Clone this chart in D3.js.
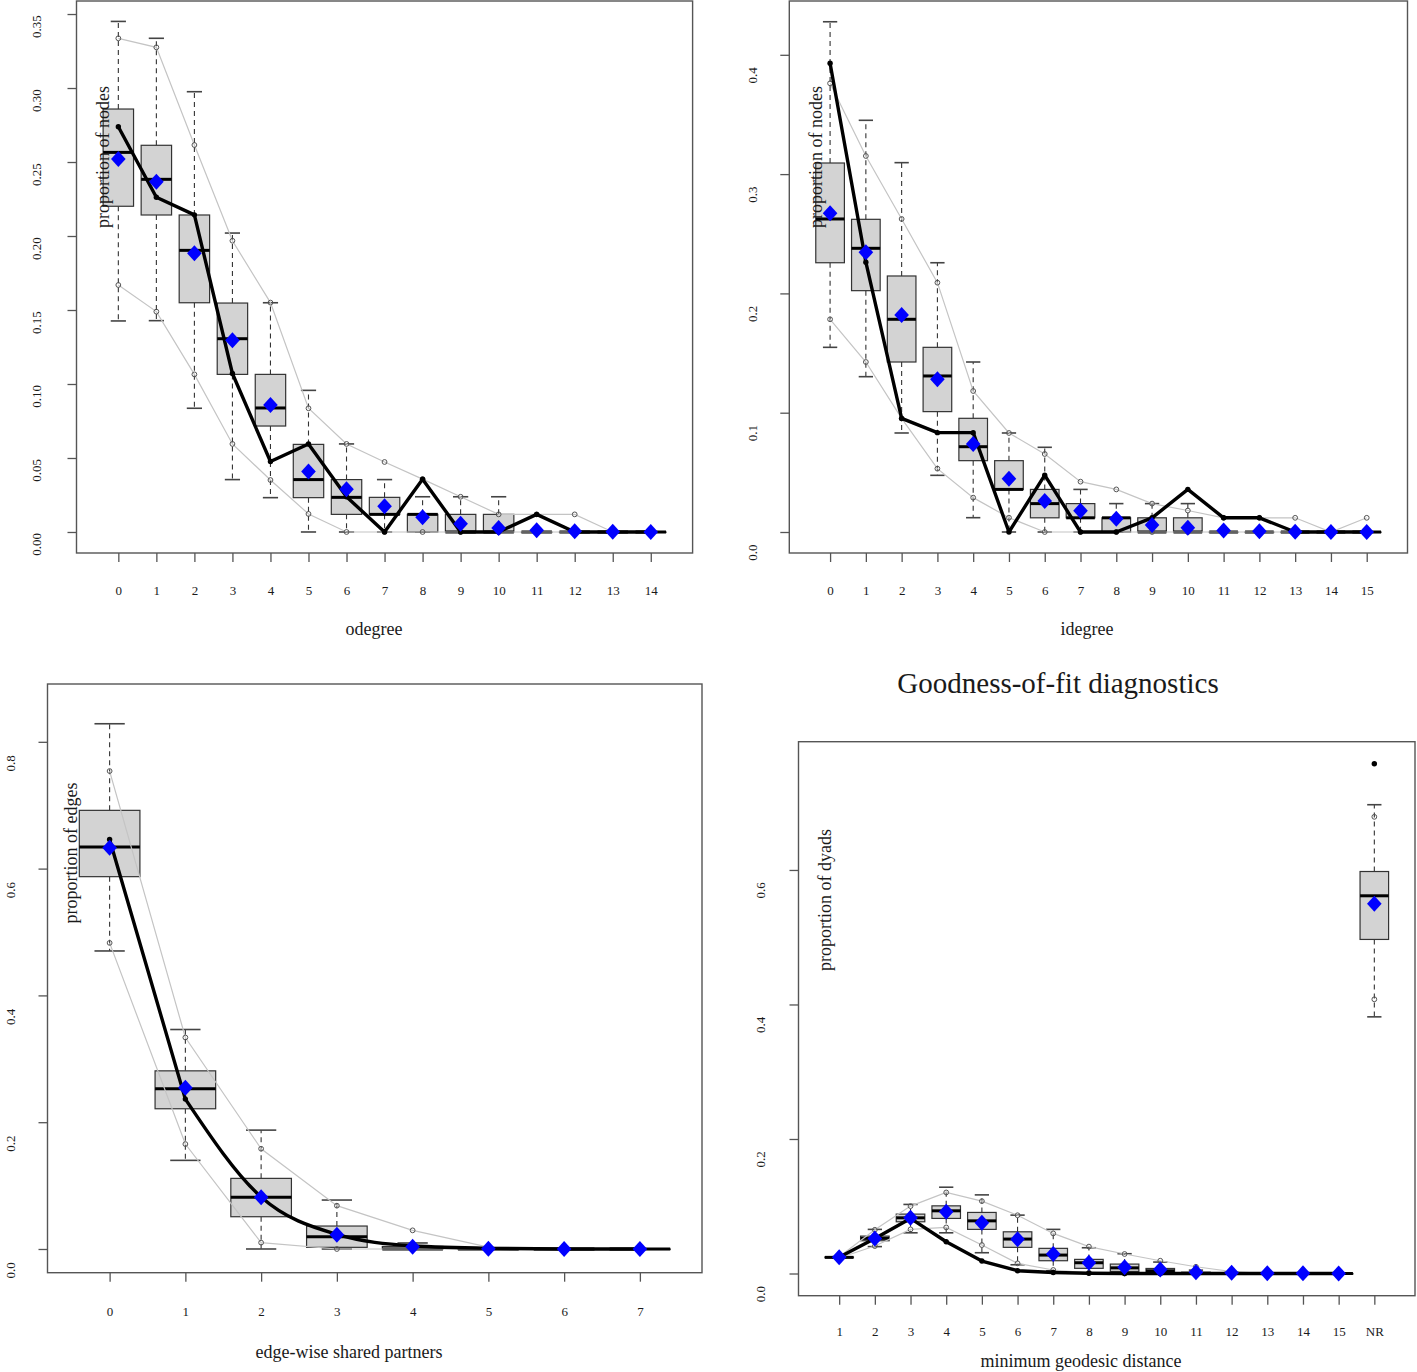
<!DOCTYPE html>
<html><head><meta charset="utf-8">
<script src="https://cdn.jsdelivr.net/npm/d3@7"></script>
<style>
body{margin:0;background:#fff}
svg{display:block}
text{font-family:"Liberation Serif","Times New Roman",serif;fill:#1a1a1a}
</style>
</head><body>
<svg id="chart" width="1417" height="1372"></svg>
<script>
// ---------- odegree ----------
const odegCats = ["0","1","2","3","4","5","6","7","8","9","10","11","12","13","14"];
const odegObs  = [0.2738,0.2262,0.2143,0.1071,0.0476,0.0595,0.0238,0,0.0357,0,0,0.0119,0,0,0];
const odegMean = [0.252,0.2367,0.1883,0.1295,0.0858,0.0408,0.0288,0.0174,0.0099,0.0056,0.0027,0.0011,0.0005,0.0001,0];
const odegLo   = [0.1426,0.1428,0.0836,0.0354,0.0232,0,0,0,0,0,0,0,0,0,0];
const odegQ1   = [0.2201,0.2142,0.1549,0.1065,0.0716,0.0232,0.0119,0.0119,0,0,0,0,0,0,0];
const odegMed  = [0.2565,0.2383,0.1903,0.1306,0.0838,0.0354,0.0234,0.0119,0.0119,0,0,0,0,0,0];
const odegQ3   = [0.2858,0.2613,0.2142,0.1547,0.1065,0.0592,0.0354,0.0234,0.0119,0.0119,0.0119,0,0,0,0];
const odegHi   = [0.345,0.3336,0.2975,0.202,0.1549,0.0957,0.0595,0.0354,0.0238,0.0238,0.0238,0,0,0,0];
const odegMinQ = [0.1669,0.1489,0.1065,0.0595,0.0351,0.0122,0,0,0,0,0,0,0,0,0];
const odegMaxQ = [0.3336,0.3275,0.2615,0.1968,0.155,0.0836,0.0595,0.0473,0.0357,0.0238,0.0119,0.0119,0.0119,0,0];
const odegTicks = [0,0.05,0.10,0.15,0.20,0.25,0.30,0.35];

// ---------- idegree ----------
const idegCats = ["0","1","2","3","4","5","6","7","8","9","10","11","12","13","14","15"];
const idegObs  = [0.3929,0.2262,0.0952,0.0833,0.0833,0,0.0476,0,0,0.0119,0.0357,0.0119,0.0119,0,0,0];
const idegMean = [0.2671,0.2344,0.1819,0.128,0.0738,0.0447,0.026,0.0179,0.0112,0.0059,0.0036,0.0012,0.0006,0.0002,0.0001,0];
const idegLo   = [0.1548,0.1302,0.083,0.0475,0.012,0,0,0,0,0,0,0,0,0,0,0];
const idegQ1   = [0.2257,0.2023,0.1425,0.1009,0.0598,0.0357,0.0119,0.0119,0,0,0,0,0,0,0,0];
const idegMed  = [0.2624,0.2378,0.1783,0.1308,0.0715,0.0357,0.0238,0.0119,0.0119,0,0,0,0,0,0,0];
const idegQ3   = [0.3093,0.2621,0.2146,0.1548,0.0953,0.0598,0.0357,0.0238,0.0119,0.0119,0.0119,0,0,0,0,0];
const idegHi   = [0.4277,0.3451,0.3096,0.2257,0.1425,0.083,0.071,0.0357,0.0238,0.0238,0.0238,0,0,0,0,0];
const idegMinQ = [0.1783,0.1425,0.0952,0.0531,0.0288,0.012,0,0,0,0,0,0,0,0,0,0];
const idegMaxQ = [0.3761,0.3152,0.2624,0.209,0.1182,0.083,0.0654,0.0422,0.0357,0.0238,0.018,0.0119,0.0119,0.0119,0,0.0119];
const idegTicks = [0,0.1,0.2,0.3,0.4];

// ---------- edge-wise shared partners ----------
const espCats = ["0","1","2","3","4","5","6","7"];
const espObs  = [0.646,0.2364,0.082,0.023,0.005,0.001,0,0];
const espMean = [0.633,0.2543,0.0815,0.0226,0.0035,0.0005,0,0];
const espLo   = [0.4701,0.1398,0,0,0,0,0,0];
const espQ1   = [0.5873,0.2212,0.0509,0.0026,0,0,0,0];
const espMed  = [0.634,0.2527,0.0815,0.0194,0,0,0,0];
const espQ3   = [0.6919,0.281,0.1114,0.0362,0.004,0,0,0];
const espHi   = [0.8285,0.3462,0.1875,0.0772,0.0095,0,0,0];
const espMinQ = [0.4828,0.1655,0.01,0,0,0,0,0];
const espMaxQ = [0.7539,0.3336,0.1581,0.0683,0.0294,0.003,0,0];
const espTicks = [0,0.2,0.4,0.6,0.8];

// ---------- minimum geodesic distance ----------
const distCats = ["1","2","3","4","5","6","7","8","9","10","11","12","13","14","15","NR"];
const distObs  = [0.024,0.052,0.0819,0.0472,0.0185,0.0042,0.0015,0.0003,0,0,0,0,0,0,0,0.758];
const distMean = [0.024,0.0522,0.083,0.0917,0.0754,0.051,0.029,0.016,0.0094,0.0059,0.002,0.001,0.0004,0.0002,0.0001,0.5497];
const distLo   = [0.023,0.04,0.0605,0.0605,0.0309,0.013,0.004,0,0,0,0,0,0,0,0,0.3816];
const distQ1   = [0.0235,0.0487,0.0769,0.0819,0.0656,0.0389,0.019,0.0077,0.003,0,0,0,0,0,0,0.4967];
const distMed  = [0.024,0.0522,0.0828,0.0932,0.0783,0.0512,0.0274,0.016,0.0084,0.004,0,0,0,0,0,0.5616];
const distQ3   = [0.0245,0.0556,0.0883,0.1006,0.0908,0.062,0.0374,0.021,0.014,0.0075,0.002,0,0,0,0,0.5977];
const distHi   = [0.025,0.0656,0.1027,0.1283,0.1169,0.0868,0.0656,0.0383,0.0294,0.017,0.005,0.002,0,0,0,0.697];
const distMinQ = [0.023,0.0408,0.0656,0.0685,0.0423,0.0151,0.0052,0.001,0,0,0,0,0,0,0,0.4077];
const distMaxQ = [0.025,0.065,0.1002,0.1205,0.1076,0.0866,0.0596,0.04,0.029,0.019,0.01,0.003,0,0,0,0.679];
const distTicks = [0,0.2,0.4,0.6];

const mainTitle = "Goodness-of-fit diagnostics";

// ---------- layout (styles only) ----------
const panels = [
  {cats:odegCats,obs:odegObs,mean:odegMean,lo:odegLo,q1:odegQ1,med:odegMed,q3:odegQ3,hi:odegHi,minQ:odegMinQ,maxQ:odegMaxQ,
   ticks:odegTicks,fmt:".2f",xlab:"odegree",ylab:"proportion of nodes",
   frame:[76.5,692.6,1,553],yDom:[-0.0142,0.3588],nLine:15,
   ylabPos:[103,157],yTickGap:40,yTickDy:12,xTickGap:37,xlabPos:[374,629],smoothFrom:-1},
  {cats:idegCats,obs:idegObs,mean:idegMean,lo:idegLo,q1:idegQ1,med:idegMed,q3:idegQ3,hi:idegHi,minQ:idegMinQ,maxQ:idegMaxQ,
   ticks:idegTicks,fmt:".1f",xlab:"idegree",ylab:"proportion of nodes",
   frame:[789.3,1407.5,1,553],yDom:[-0.0176,0.4451],nLine:16,
   ylabPos:[816,157],yTickGap:37,yTickDy:20,xTickGap:37,xlabPos:[1087,629],smoothFrom:-1},
  {cats:espCats,obs:espObs,mean:espMean,lo:espLo,q1:espQ1,med:espMed,q3:espQ3,hi:espHi,minQ:espMinQ,maxQ:espMaxQ,
   ticks:espTicks,fmt:".1f",xlab:"edge-wise shared partners",ylab:"proportion of edges",
   frame:[47.5,702,684,1272.7],yDom:[-0.0374,0.8912],nLine:8,
   ylabPos:[71,853],yTickGap:37.5,yTickDy:21,xTickGap:39,xlabPos:[349,1352],smoothFrom:1},
  {cats:distCats,obs:distObs,mean:distMean,lo:distLo,q1:distQ1,med:distMed,q3:distQ3,hi:distHi,minQ:distMinQ,maxQ:distMaxQ,
   ticks:distTicks,fmt:".1f",xlab:"minimum geodesic distance",ylab:"proportion of dyads",
   frame:[798.5,1415,741.7,1295.7],yDom:[-0.0330,0.7907],nLine:15,
   ylabPos:[824.5,900],yTickGap:38.5,yTickDy:20,xTickGap:36,xlabPos:[1081,1361],smoothFrom:-1}
];

const svg = d3.select("#chart");
const frameCol = "#555";

panels.forEach(p => {
  const n = p.cats.length;
  const idx = d3.range(n);
  const [fx0, fx1, fy0, fy1] = p.frame;
  const x = d3.scaleLinear().domain([-0.5 - 0.04*n, n - 0.5 + 0.04*n]).range([fx0, fx1]);
  const y = d3.scaleLinear().domain(p.yDom).range([fy1, fy0]);
  const g = svg.append("g");
  const bw = x(0.4) - x(0);     // half box width
  const cw = bw / 2;            // half staple width

  // boxplots
  const bx = g.append("g");
  idx.forEach(i => {
    const cx = x(i);
    bx.append("line").attr("x1",cx).attr("x2",cx).attr("y1",y(p.q3[i])).attr("y2",y(p.hi[i]))
      .attr("stroke","#333").attr("stroke-width",1.1).attr("stroke-dasharray","5,4");
    bx.append("line").attr("x1",cx).attr("x2",cx).attr("y1",y(p.q1[i])).attr("y2",y(p.lo[i]))
      .attr("stroke","#333").attr("stroke-width",1.1).attr("stroke-dasharray","5,4");
    [p.hi[i], p.lo[i]].forEach(v => {
      bx.append("line").attr("x1",cx-cw).attr("x2",cx+cw).attr("y1",y(v)).attr("y2",y(v))
        .attr("stroke","#444").attr("stroke-width",1.6);
    });
    bx.append("rect").attr("x",cx-bw).attr("width",2*bw)
      .attr("y",y(p.q3[i])).attr("height",Math.max(0.5, y(p.q1[i]) - y(p.q3[i])))
      .attr("fill","#d3d3d3").attr("stroke","#333").attr("stroke-width",1.2);
    bx.append("line").attr("x1",cx-bw).attr("x2",cx+bw).attr("y1",y(p.med[i])).attr("y2",y(p.med[i]))
      .attr("stroke","#000").attr("stroke-width",3);
  });

  const lineIdx = idx.slice(0, p.nLine);
  [p.minQ, p.maxQ].forEach(arr => {
    g.append("path").datum(lineIdx)
      .attr("d", d3.line().x(i => x(i)).y(i => y(arr[i])))
      .attr("fill","none").attr("stroke","#c4c4c4").attr("stroke-width",1.2);
  });
  [p.minQ, p.maxQ].forEach(arr => {
    g.append("g").selectAll("circle").data(idx).join("circle")
      .attr("cx", i => x(i)).attr("cy", i => y(arr[i])).attr("r",2.4)
      .attr("fill","none").attr("stroke","#555").attr("stroke-width",1);
  });

  // observed line (optionally smoothed after a given index)
  const obsLine = d3.line().x(i => x(i)).y(i => y(p.obs[i]));
  if (p.smoothFrom >= 0) {
    const head = lineIdx.slice(0, p.smoothFrom + 1);
    const tail = lineIdx.slice(p.smoothFrom);
    g.append("path").datum(head).attr("d", obsLine.curve(d3.curveLinear))
      .attr("fill","none").attr("stroke","#000").attr("stroke-width",3.4).attr("stroke-linecap","round");
    g.append("path").datum(tail).attr("d", obsLine.curve(d3.curveMonotoneX))
      .attr("fill","none").attr("stroke","#000").attr("stroke-width",3.4).attr("stroke-linecap","round");
  } else {
    g.append("path").datum(lineIdx).attr("d", obsLine.curve(d3.curveLinear))
      .attr("fill","none").attr("stroke","#000").attr("stroke-width",3.4).attr("stroke-linejoin","round");
  }
  g.append("g").selectAll("circle").data(idx).join("circle")
    .attr("cx", i => x(i)).attr("cy", i => y(p.obs[i])).attr("r",2.7).attr("fill","#000");

  // mean diamonds
  g.append("g").selectAll("path").data(idx).join("path")
    .attr("d", i => { const cx = x(i), cy = y(p.mean[i]); return `M${cx},${cy-8}L${cx+7.3},${cy}L${cx},${cy+8}L${cx-7.3},${cy}Z`; })
    .attr("fill","#0000ff");

  // frame
  g.append("rect").attr("x",fx0).attr("y",fy0).attr("width",fx1-fx0).attr("height",fy1-fy0)
    .attr("fill","none").attr("stroke",frameCol).attr("stroke-width",1.4);

  // x axis
  const xa = g.append("g").attr("transform",`translate(0,${fy1})`)
    .call(d3.axisBottom(x).tickValues(idx).tickFormat(i => p.cats[i]).tickSize(9).tickSizeOuter(0));
  xa.select(".domain").remove();
  xa.selectAll(".tick line").attr("stroke",frameCol).attr("stroke-width",1.3);
  xa.selectAll(".tick text").attr("y",p.xTickGap).attr("dy",null)
    .attr("dominant-baseline","central").style("font-size","13px").style("font-family",'"Liberation Serif",serif').attr("fill","#1a1a1a");

  // y axis
  const ya = g.append("g").attr("transform",`translate(${fx0},0)`)
    .call(d3.axisLeft(y).tickValues(p.ticks).tickFormat(d3.format(p.fmt)).tickSize(9).tickSizeOuter(0));
  ya.select(".domain").remove();
  ya.selectAll(".tick line").attr("stroke",frameCol).attr("stroke-width",1.3);
  ya.selectAll(".tick text").attr("x",0).attr("dy",null).attr("text-anchor","middle")
    .attr("dominant-baseline","central")
    .attr("transform",`translate(${-p.yTickGap},${p.yTickDy}) rotate(-90)`)
    .style("font-size","13px").style("font-family",'"Liberation Serif",serif').attr("fill","#1a1a1a");

  // axis titles
  g.append("text").attr("x",p.xlabPos[0]).attr("y",p.xlabPos[1]).attr("text-anchor","middle")
    .attr("dominant-baseline","central").style("font-size","18px").text(p.xlab);
  g.append("text").attr("transform",`translate(${p.ylabPos[0]},${p.ylabPos[1]}) rotate(-90)`)
    .attr("text-anchor","middle").attr("dominant-baseline","central").style("font-size","18px").text(p.ylab);
});

svg.append("text").attr("x",1058).attr("y",683).attr("text-anchor","middle")
  .attr("dominant-baseline","central").style("font-size","29px").text(mainTitle);
</script>
</body></html>
